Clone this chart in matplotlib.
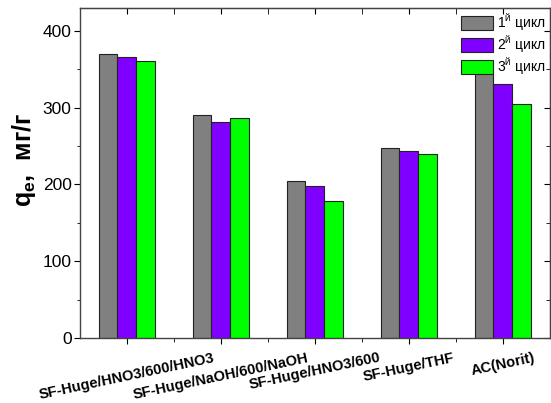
import numpy as np
import matplotlib
matplotlib.use("Agg")
import matplotlib.pyplot as plt
from matplotlib.ticker import MultipleLocator, FixedLocator, NullFormatter

plt.rcParams["font.family"] = ["Liberation Sans", "DejaVu Sans"]
plt.rcParams["mathtext.fontset"] = "custom"
plt.rcParams["mathtext.rm"] = "Liberation Sans"
plt.rcParams["mathtext.it"] = "Liberation Sans:italic"
plt.rcParams["mathtext.bf"] = "Liberation Sans:bold"

categories = ["SF-Huge/HNO3/600/HNO3", "SF-Huge/NaOH/600/NaOH", "SF-Huge/HNO3/600",
              "SF-Huge/THF", "AC(Norit)"]
cycle1 = [370, 290, 205, 247, 345]
cycle2 = [366, 281, 198, 243, 331]
cycle3 = [360, 287, 178, 240, 304]
labels = [r"1$^{\mathrm{й}}$ цикл", r"2$^{\mathrm{й}}$ цикл", r"3$^{\mathrm{й}}$ цикл"]
colors = ["#808080", "#8000FF", "#00FF00"]

fig = plt.figure(figsize=(5.51, 4.03), dpi=100)
ax = fig.add_axes([0.145, 0.161, 0.853, 0.82])

x = np.arange(len(categories))
w = 0.2
for i, (vals, lab, c) in enumerate(zip([cycle1, cycle2, cycle3], labels, colors)):
    ax.bar(x + (i - 1) * w, vals, w, color=c, edgecolor="#222222", linewidth=0.8, label=lab)

ax.set_xlim(-0.5, 4.5)
ax.set_ylim(0, 430)
ax.yaxis.set_major_locator(MultipleLocator(100))
ax.yaxis.set_minor_locator(MultipleLocator(50))
ax.xaxis.set_major_locator(FixedLocator(x))
ax.xaxis.set_minor_locator(FixedLocator(x[:-1] + 0.5))
ax.set_xticklabels(categories, rotation=12, ha="center", fontsize=10.5, fontweight="bold")
for lbl in ax.get_xticklabels():
    lbl.set_transform(lbl.get_transform() + matplotlib.transforms.ScaledTranslation(-0.11, 0, fig.dpi_scale_trans))
ax.tick_params(axis="y", which="major", direction="out", length=4, labelsize=12.5, pad=2)
ax.tick_params(axis="y", which="minor", direction="out", length=2.5)
ax.tick_params(axis="x", which="major", direction="out", length=4, pad=5)
ax.tick_params(axis="x", which="minor", direction="out", length=3)

for s in ax.spines.values():
    s.set_color("#444444")
    s.set_linewidth(1.0)

# inward ticks on top and right sides
sy = ax.secondary_yaxis("right")
sy.yaxis.set_major_locator(MultipleLocator(100))
sy.yaxis.set_minor_locator(MultipleLocator(50))
sy.yaxis.set_major_formatter(NullFormatter())
sy.tick_params(which="major", direction="in", length=4)
sy.tick_params(which="minor", direction="in", length=3)
sx = ax.secondary_xaxis("top")
sx.xaxis.set_major_locator(FixedLocator(x))
sx.xaxis.set_minor_locator(FixedLocator(x[:-1] + 0.5))
sx.xaxis.set_major_formatter(NullFormatter())
sx.tick_params(which="both", direction="in", length=4)

ax.set_ylabel(r"q$_{\mathbf{e}}$,  мг/г", fontsize=18, fontweight="bold")
ax.yaxis.set_label_coords(-0.09, 0.54)

ax.legend(loc="upper right", frameon=False, fontsize=10, handlelength=2.3, handleheight=1.15,
          labelspacing=0.1, handletextpad=0.3, borderaxespad=0.1, borderpad=0.2)

fig.savefig("out.png", dpi=100)
